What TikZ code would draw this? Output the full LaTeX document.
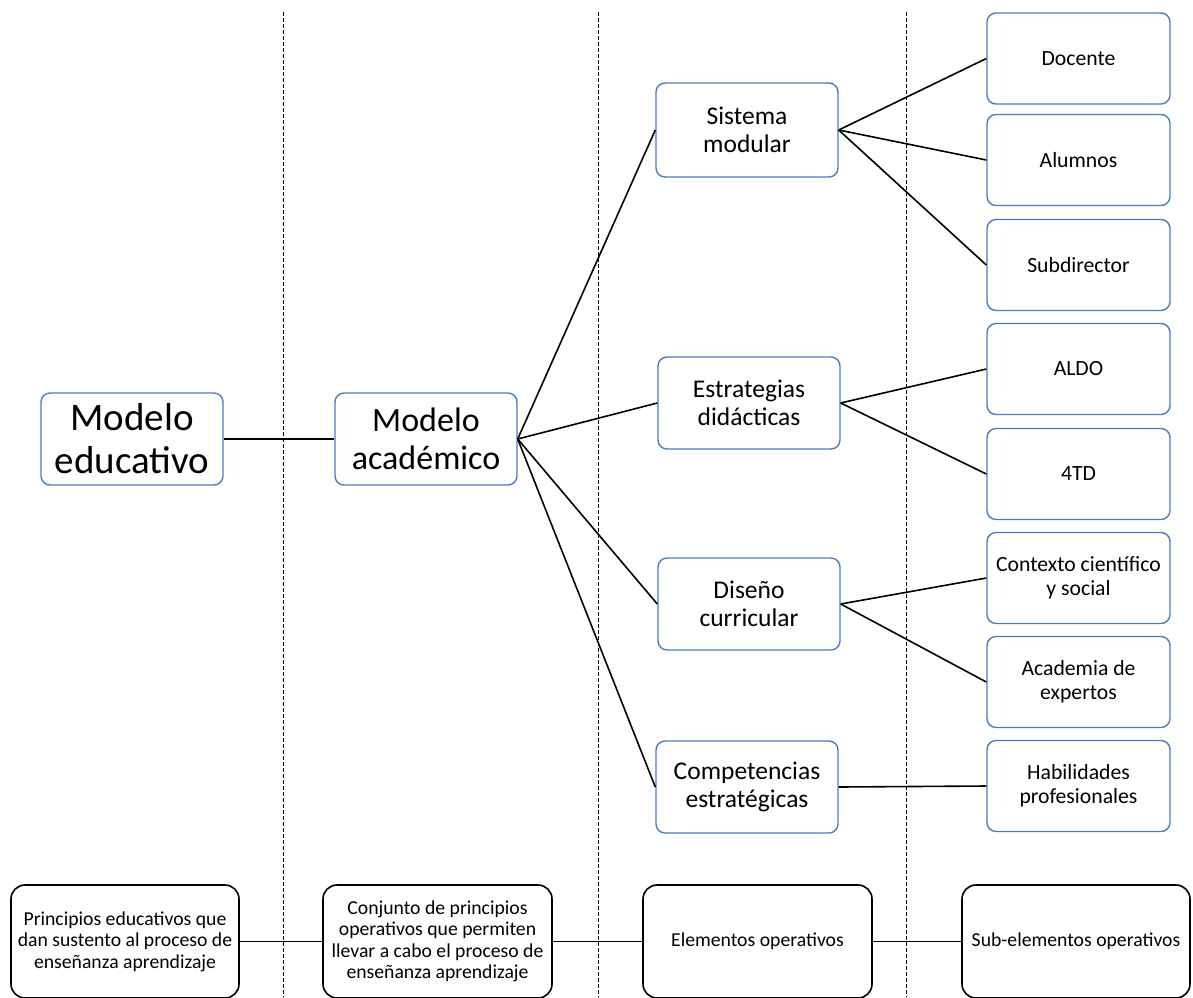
\documentclass[tikz,border=0pt]{standalone}
\usepackage{fontspec}
\setmainfont{Carlito}
\definecolor{boxblue}{RGB}{74,126,187}
\begin{document}
\begin{tikzpicture}[x=1pt,y=-1pt,
  bluebox/.style={draw=boxblue,line width=1.4pt,rounded corners=9pt,fill=white,align=center,inner sep=0pt},
  bigbox/.style={bluebox,minimum width=182pt,minimum height=92pt},
  midbox/.style={bluebox,minimum width=182pt,minimum height=92pt,font=\fontsize{25.5}{28}\selectfont},
  rightbox/.style={bluebox,minimum width=183pt,minimum height=91pt,font=\fontsize{21.7}{24}\selectfont},
  botbox/.style={draw=black,line width=1.6pt,rounded corners=14pt,fill=white,align=center,inner sep=0pt,minimum width=228pt,minimum height=113pt,font=\fontsize{19.7}{21.5}\selectfont},
  link/.style={line width=1.6pt,black},
  sep/.style={black,line width=0.6pt,dash pattern=on 3.5pt off 2.5pt}]
\useasboundingbox (0,0) rectangle (1193,997);
\draw[sep] (283,12) -- (283,997);
\draw[sep] (598,12) -- (598,997);
\draw[sep] (906,12) -- (906,997);

\node[bigbox,font=\fontsize{39}{43}\selectfont] (edu) at (132,439) {Modelo\\educativo};
\node[bigbox,font=\fontsize{34}{37.5}\selectfont] (aca) at (426,439) {Modelo\\académico};

\node[midbox,minimum height=94pt] (sis) at (747,130) {Sistema\\modular};
\node[midbox] (est) at (749,403) {Estrategias\\didácticas};
\node[midbox] (dis) at (749,604) {Diseño\\curricular};
\node[midbox] (com) at (747,787) {Competencias\\estratégicas};

\node[rightbox] (doc) at (1078.5,58.5) {Docente};
\node[rightbox] (alu) at (1078.5,160) {Alumnos};
\node[rightbox] (sub) at (1078.5,265) {Subdirector};
\node[rightbox] (aldo) at (1078.5,369) {ALDO};
\node[rightbox] (td) at (1078.5,474) {4TD};
\node[rightbox] (ctx) at (1078.5,578) {Contexto científico\\y social};
\node[rightbox] (acd) at (1078.5,682) {Academia de\\expertos};
\node[rightbox] (hab) at (1078.5,786) {Habilidades\\profesionales};

\node[botbox] (b1) at (125,941.5) {Principios educativos que\\dan sustento al proceso de\\enseñanza aprendizaje};
\node[botbox,minimum width=229pt] (b2) at (437.5,941.5) {Conjunto de principios\\operativos que permiten\\llevar a cabo el proceso de\\enseñanza aprendizaje};
\node[botbox,minimum width=229pt] (b3) at (757.5,941.5) {Elementos operativos};
\node[botbox] (b4) at (1076,941.5) {Sub-elementos operativos};

\draw[link] (edu.east) -- (aca.west);
\foreach \m in {sis,est,dis,com} \draw[link] (aca.east) -- (\m.west);
\foreach \r in {doc,alu,sub} \draw[link] (sis.east) -- (\r.west);
\foreach \r in {aldo,td} \draw[link] (est.east) -- (\r.west);
\foreach \r in {ctx,acd} \draw[link] (dis.east) -- (\r.west);
\draw[link] (com.east) -- (hab.west);
\draw[link] (b1.east) -- (b2.west);
\draw[link] (b2.east) -- (b3.west);
\draw[link] (b3.east) -- (b4.west);
\end{tikzpicture}
\end{document}
